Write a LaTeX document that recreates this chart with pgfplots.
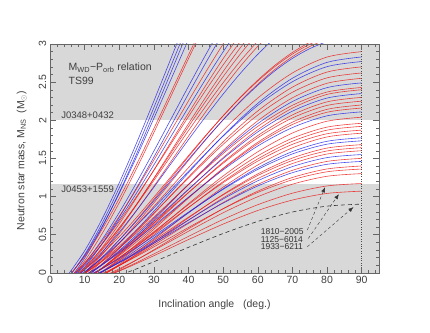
\documentclass[border=0pt]{standalone}
\usepackage{pgfplots}
\pgfplotsset{compat=1.18}
\usepackage{fontspec}
\setmainfont{Liberation Sans}
\usetikzlibrary{arrows.meta}

\definecolor{cred}{RGB}{235,25,25}
\definecolor{cblue}{RGB}{35,35,230}
\definecolor{band}{RGB}{216,216,216}
\pgfplotsset{
  rc/.style={cred,line width=0.6pt,smooth,opacity=0.8},
  bc/.style={cblue,line width=0.6pt,smooth,opacity=0.8},
}

\begin{document}
\fontsize{10.5}{12}\selectfont
\begin{tikzpicture}
\path[use as bounding box] (-50pt,-59.3pt) rectangle (380pt,272.7pt);
\begin{axis}[scale only axis, width=329pt, height=228.7pt,
  xmin=0, xmax=95, ymin=0, ymax=3,
  xtick={0,10,...,90}, ytick={0,0.5,...,3},
  minor xtick={2,4,...,94}, minor y tick num=4,
  tick align=inside, major tick length=6pt, minor tick length=3pt,
  axis line style={black!60}, every tick/.style={black!60},
  axis on top,
  /pgf/number format/assume math mode=true,
  ticklabel style={black!75},
  yticklabel style={rotate=90, anchor=south},
  xlabel={Inclination angle\ \ \ (deg.)},
  ylabel={Neutron star mass, M\textsubscript{NS}\ \ (M\textsubscript{$\odot$})},
  label style={black!75},
  xlabel style={at={(axis description cs:0.5,-0.141)}, anchor=center},
  ylabel style={at={(axis description cs:-0.086,0.49)}, anchor=center},
]
% shaded bands
\addplot[draw=none, fill=band, forget plot] coordinates {(0,0) (95,0) (95,1.17) (0,1.17)} -- cycle;
\addplot[draw=none, fill=band, forget plot] coordinates {(0,2.005) (95,2.005) (95,3) (0,3)} -- cycle;

% steep curves
\addplot[bc] coordinates {(5,-0.04)(10,0.287)(15,0.701)(20,1.179)(25,1.702)(30,2.253)(35,2.819)(40,3.385)};
\addplot[bc] coordinates {(5,-0.084)(10,0.237)(15,0.644)(20,1.113)(25,1.625)(30,2.167)(35,2.721)(40,3.277)};
\addplot[bc] coordinates {(5,-0.126)(10,0.19)(15,0.591)(20,1.052)(25,1.558)(30,2.091)(35,2.637)(40,3.185)};
\addplot[bc] coordinates {(5,-0.075)(10,0.224)(15,0.604)(20,1.041)(25,1.52)(30,2.026)(35,2.543)(40,3.062)};
\addplot[rc] coordinates {(5,-0.126)(10,0.154)(15,0.509)(20,0.919)(25,1.366)(30,1.839)(35,2.323)(40,2.809)(45,3.283)};
\addplot[rc] coordinates {(5,-0.067)(10,0.212)(15,0.566)(20,0.974)(25,1.42)(30,1.891)(35,2.373)(40,2.857)(45,3.33)};
\addplot[bc] coordinates {(5,-0.125)(10,0.12)(15,0.431)(20,0.79)(25,1.182)(30,1.596)(35,2.021)(40,2.446)(45,2.862)(50,3.26)};
\addplot[bc] coordinates {(5,-0.168)(10,0.072)(15,0.377)(20,0.728)(25,1.112)(30,1.517)(35,1.932)(40,2.349)(45,2.756)(50,3.146)};
\addplot[rc] coordinates {(5,-0.097)(10,0.128)(15,0.412)(20,0.74)(25,1.099)(30,1.478)(35,1.866)(40,2.255)(45,2.635)(50,3.0)(55,3.34)};
\addplot[bc] coordinates {(5,-0.12)(10,0.099)(15,0.376)(20,0.696)(25,1.046)(30,1.415)(35,1.793)(40,2.172)(45,2.543)(50,2.898)(55,3.23)};
\addplot[rc] coordinates {(5,-0.162)(10,0.053)(15,0.326)(20,0.641)(25,0.985)(30,1.348)(35,1.72)(40,2.093)(45,2.458)(50,2.808)(55,3.134)};
\addplot[rc] coordinates {(5,-0.088)(10,0.116)(15,0.375)(20,0.673)(25,0.999)(30,1.343)(35,1.696)(40,2.049)(45,2.395)(50,2.726)(55,3.035)};
\addplot[rc] coordinates {(5,-0.207)(10,0.0)(15,0.261)(20,0.563)(25,0.893)(30,1.241)(35,1.597)(40,1.955)(45,2.305)(50,2.64)(55,2.953)(60,3.237)};
\addplot[rc] coordinates {(5,-0.151)(10,0.046)(15,0.296)(20,0.585)(25,0.9)(30,1.233)(35,1.574)(40,1.917)(45,2.251)(50,2.572)(55,2.871)(60,3.143)};
\addplot[rc] coordinates {(5,-0.116)(10,0.073)(15,0.313)(20,0.589)(25,0.891)(30,1.21)(35,1.537)(40,1.865)(45,2.185)(50,2.492)(55,2.779)(60,3.04)};
\addplot[rc] coordinates {(5,-0.196)(10,-0.006)(15,0.234)(20,0.512)(25,0.815)(30,1.135)(35,1.463)(40,1.792)(45,2.113)(50,2.421)(55,2.709)(60,2.97)(65,3.201)};
\addplot[bc] coordinates {(5,-0.141)(10,0.039)(15,0.267)(20,0.531)(25,0.818)(30,1.122)(35,1.434)(40,1.746)(45,2.051)(50,2.343)(55,2.617)(60,2.865)(65,3.084)};
\addplot[rc] coordinates {(5,-0.171)(10,-0.01)(15,0.195)(20,0.431)(25,0.69)(30,0.962)(35,1.242)(40,1.522)(45,1.796)(50,2.058)(55,2.303)(60,2.526)(65,2.723)(70,2.889)(75,3.022)(80,3.119)};
\addplot[rc] coordinates {(5,-0.113)(10,0.044)(15,0.244)(20,0.474)(25,0.725)(30,0.991)(35,1.263)(40,1.536)(45,1.803)(50,2.058)(55,2.297)(60,2.514)(65,2.706)(70,2.868)(75,2.997)(80,3.092)};
\addplot[rc] coordinates {(5,-0.212)(10,-0.051)(15,0.153)(20,0.388)(25,0.645)(30,0.917)(35,1.195)(40,1.473)(45,1.746)(50,2.007)(55,2.251)(60,2.473)(65,2.669)(70,2.834)(75,2.967)(80,3.063)};
\addplot[bc] coordinates {(5,-0.154)(10,0.002)(15,0.201)(20,0.43)(25,0.68)(30,0.944)(35,1.215)(40,1.486)(45,1.751)(50,2.005)(55,2.243)(60,2.459)(65,2.65)(70,2.811)(75,2.939)(80,3.033)};

% curves ending at 90 deg
\addplot[rc] coordinates {(10,-0.013)(15,0.174)(20,0.388)(25,0.623)(30,0.87)(35,1.124)(40,1.378)(50,1.865)(60,2.291)(70,2.62)(80,2.829)(90,2.9)};
\addplot[bc] coordinates {(10,-0.073)(15,0.112)(20,0.326)(25,0.56)(30,0.807)(35,1.06)(40,1.313)(50,1.799)(60,2.222)(70,2.551)(80,2.759)(90,2.83)};
\addplot[bc] coordinates {(5,-0.124)(10,0.015)(15,0.191)(20,0.394)(25,0.616)(30,0.85)(35,1.09)(40,1.331)(50,1.791)(60,2.194)(70,2.505)(80,2.703)(90,2.77)};
\addplot[rc] coordinates {(10,-0.064)(15,0.112)(20,0.316)(25,0.539)(30,0.774)(35,1.015)(40,1.256)(50,1.718)(60,2.122)(70,2.434)(80,2.632)(90,2.7)};
\addplot[rc] coordinates {(10,-0.014)(15,0.154)(20,0.348)(25,0.56)(30,0.784)(35,1.014)(40,1.244)(50,1.684)(60,2.069)(70,2.367)(80,2.556)(90,2.62)};
\addplot[rc] coordinates {(10,-0.112)(15,0.058)(20,0.254)(25,0.468)(30,0.695)(35,0.927)(40,1.159)(50,1.604)(60,1.993)(70,2.294)(80,2.485)(90,2.55)};
\addplot[bc] coordinates {(10,-0.061)(15,0.102)(20,0.29)(25,0.495)(30,0.712)(35,0.935)(40,1.157)(50,1.584)(60,1.956)(70,2.245)(80,2.428)(90,2.49)};
\addplot[rc] coordinates {(10,-0.01)(15,0.146)(20,0.326)(25,0.522)(30,0.73)(35,0.942)(40,1.156)(50,1.563)(60,1.92)(70,2.196)(80,2.37)(90,2.43)};
\addplot[rc] coordinates {(10,-0.105)(15,0.056)(20,0.24)(25,0.442)(30,0.655)(35,0.873)(40,1.092)(50,1.51)(60,1.876)(70,2.159)(80,2.339)(90,2.4)};
\addplot[bc] coordinates {(10,-0.052)(15,0.101)(20,0.278)(25,0.471)(30,0.676)(35,0.885)(40,1.095)(50,1.497)(60,1.847)(70,2.119)(80,2.291)(90,2.35)};
\addplot[rc] coordinates {(10,-0.093)(15,0.06)(20,0.236)(25,0.429)(30,0.632)(35,0.841)(40,1.05)(50,1.45)(60,1.799)(70,2.07)(80,2.241)(90,2.3)};
\addplot[rc] coordinates {(10,-0.041)(15,0.105)(20,0.274)(25,0.459)(30,0.653)(35,0.853)(40,1.053)(50,1.436)(60,1.771)(70,2.03)(80,2.194)(90,2.25)};
\addplot[rc] coordinates {(10,-0.138)(15,0.012)(20,0.184)(25,0.372)(30,0.571)(35,0.775)(40,0.979)(50,1.37)(60,1.711)(70,1.975)(80,2.143)(90,2.2)};
\addplot[rc] coordinates {(10,-0.085)(15,0.059)(20,0.224)(25,0.405)(30,0.596)(35,0.791)(40,0.987)(50,1.363)(60,1.69)(70,1.944)(80,2.105)(90,2.16)};
\addplot[bc] coordinates {(10,-0.033)(15,0.104)(20,0.262)(25,0.435)(30,0.617)(35,0.803)(40,0.991)(50,1.349)(60,1.662)(70,1.904)(80,2.058)(90,2.11)};
\addplot[rc] coordinates {(10,-0.131)(15,0.008)(20,0.168)(25,0.343)(30,0.527)(35,0.716)(40,0.906)(50,1.269)(60,1.586)(70,1.832)(80,1.987)(90,2.04)};
\addplot[rc] coordinates {(10,-0.081)(15,0.05)(20,0.2)(25,0.364)(30,0.538)(35,0.716)(40,0.894)(50,1.235)(60,1.533)(70,1.764)(80,1.91)(90,1.96)};
\addplot[rc] coordinates {(10,-0.121)(15,0.01)(20,0.16)(25,0.324)(30,0.498)(35,0.676)(40,0.854)(50,1.195)(60,1.493)(70,1.724)(80,1.87)(90,1.92)};
\addplot[rc] coordinates {(10,-0.069)(15,0.055)(20,0.198)(25,0.354)(30,0.519)(35,0.688)(40,0.857)(50,1.181)(60,1.464)(70,1.684)(80,1.823)(90,1.87)};
\addplot[rc] coordinates {(10,-0.164)(15,-0.037)(20,0.11)(25,0.271)(30,0.44)(35,0.614)(40,0.788)(50,1.122)(60,1.413)(70,1.638)(80,1.781)(90,1.83)};
\addplot[bc] coordinates {(10,-0.113)(15,0.007)(20,0.146)(25,0.298)(30,0.458)(35,0.622)(40,0.786)(50,1.101)(60,1.376)(70,1.589)(80,1.724)(90,1.77)};
\addplot[bc] coordinates {(10,-0.06)(15,0.054)(20,0.186)(25,0.33)(30,0.482)(35,0.638)(40,0.795)(50,1.094)(60,1.355)(70,1.558)(80,1.686)(90,1.73)};
\addplot[rc] coordinates {(10,-0.157)(15,-0.039)(20,0.096)(25,0.244)(30,0.4)(35,0.56)(40,0.72)(50,1.028)(60,1.296)(70,1.504)(80,1.635)(90,1.68)};
\addplot[rc] coordinates {(10,-0.104)(15,0.008)(20,0.136)(25,0.276)(30,0.425)(35,0.577)(40,0.729)(50,1.021)(60,1.275)(70,1.472)(80,1.597)(90,1.64)};
\addplot[rc] coordinates {(10,-0.144)(15,-0.032)(20,0.096)(25,0.236)(30,0.385)(35,0.537)(40,0.689)(50,0.981)(60,1.235)(70,1.432)(80,1.557)(90,1.6)};
\addplot[bc] coordinates {(10,-0.092)(15,0.013)(20,0.134)(25,0.266)(30,0.406)(35,0.549)(40,0.692)(50,0.967)(60,1.206)(70,1.392)(80,1.51)(90,1.55)};
\addplot[rc] coordinates {(10,-0.133)(15,-0.028)(20,0.092)(25,0.223)(30,0.362)(35,0.505)(40,0.647)(50,0.92)(60,1.158)(70,1.343)(80,1.46)(90,1.5)};
\addplot[bc] coordinates {(10,-0.08)(15,0.019)(20,0.132)(25,0.256)(30,0.387)(35,0.521)(40,0.656)(50,0.913)(60,1.138)(70,1.312)(80,1.422)(90,1.46)};
\addplot[rc] coordinates {(10,-0.177)(15,-0.076)(20,0.04)(25,0.167)(30,0.301)(35,0.438)(40,0.576)(50,0.84)(60,1.07)(70,1.249)(80,1.361)(90,1.4)};
\addplot[rc] coordinates {(10,-0.106)(15,-0.012)(20,0.096)(25,0.214)(30,0.339)(35,0.466)(40,0.594)(50,0.839)(60,1.053)(70,1.219)(80,1.324)(90,1.36)};
\addplot[rc] coordinates {(10,-0.147)(15,-0.055)(20,0.052)(25,0.169)(30,0.292)(35,0.418)(40,0.544)(50,0.786)(60,0.997)(70,1.161)(80,1.265)(90,1.3)};

% J1810-2005, J1125-6014, J1933-6211
\addplot[rc] coordinates {(10,-0.156)(15,-0.072)(20,0.026)(25,0.133)(30,0.246)(35,0.361)(40,0.477)(50,0.699)(60,0.892)(70,1.043)(80,1.138)(90,1.17)};
\addplot[rc] coordinates {(10,-0.145)(15,-0.067)(20,0.022)(25,0.12)(30,0.223)(35,0.329)(40,0.435)(50,0.638)(60,0.816)(70,0.953)(80,1.04)(90,1.07)};
\addplot[black!80, line width=0.6pt, smooth, dash pattern=on 4pt off 3pt] coordinates {(15,-0.116)(20,-0.036)(25,0.051)(30,0.144)(35,0.238)(40,0.333)(50,0.514)(60,0.673)(70,0.796)(80,0.873)(90,0.9)};

\draw[black!70, dotted] (axis cs:90,0) -- (axis cs:90,3);

% annotations
\node[anchor=west, black!75] at (axis cs:4.3,2.69) {M\textsubscript{WD}−P\textsubscript{orb} relation};
\node[anchor=west, black!75] at (axis cs:4.3,2.51) {TS99};
\node[anchor=west, black!75, font=\fontsize{9.5}{11}\selectfont] at (axis cs:2.2,2.07) {J0348+0432};
\node[anchor=west, black!75, font=\fontsize{9.5}{11}\selectfont] at (axis cs:2.2,1.09) {J0453+1559};
\node[anchor=west, black!80, font=\fontsize{8.5}{10}\selectfont] at (axis cs:59.8,0.54) {1810−2005};
\node[anchor=west, black!80, font=\fontsize{8.5}{10}\selectfont] at (axis cs:59.8,0.44) {1125−6014};
\node[anchor=west, black!80, font=\fontsize{8.5}{10}\selectfont] at (axis cs:59.8,0.34) {1933−6211};
\draw[black!80, dash pattern=on 3pt off 2.5pt, -{Latex[length=5pt,width=4pt]}] (axis cs:74.3,0.56) -- (axis cs:79.4,1.12);
\draw[black!80, dash pattern=on 3pt off 2.5pt, -{Latex[length=5pt,width=4pt]}] (axis cs:74.6,0.45) -- (axis cs:83.4,1.03);
\draw[black!80, dash pattern=on 3pt off 2.5pt, -{Latex[length=5pt,width=4pt]}] (axis cs:74.3,0.34) -- (axis cs:87.6,0.86);
\end{axis}
\end{tikzpicture}
\end{document}
